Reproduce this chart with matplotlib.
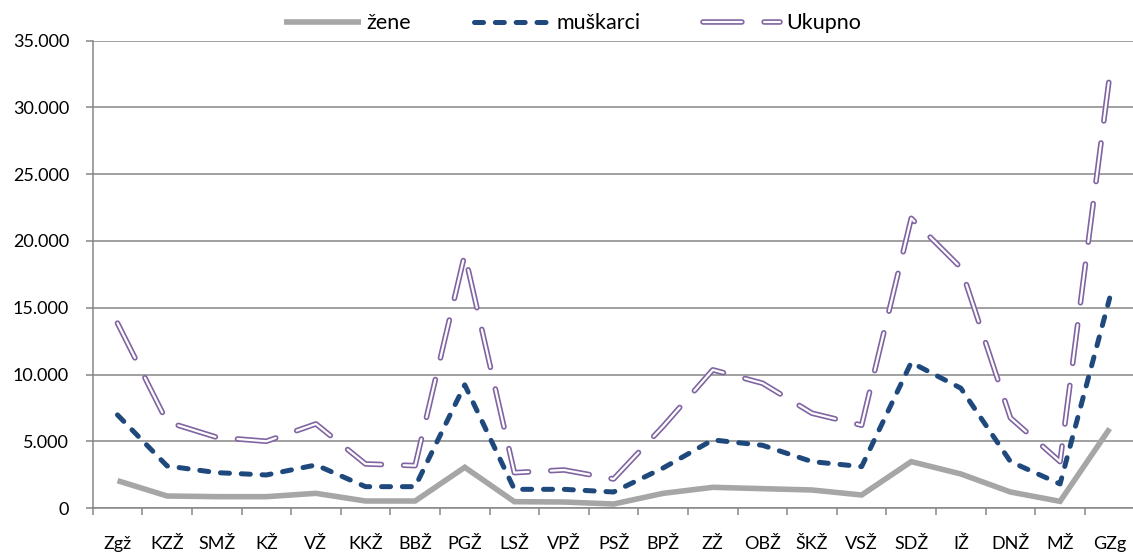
import matplotlib
matplotlib.use("Agg")
import matplotlib.pyplot as plt
import matplotlib.patheffects as pe
from matplotlib.ticker import FuncFormatter, MultipleLocator
import numpy as np

plt.rcParams["font.family"] = ["Lato", "DejaVu Sans"]
plt.rcParams["lines.scale_dashes"] = False

categories = ["Zgž", "KZŽ", "SMŽ", "KŽ", "VŽ", "KKŽ", "BBŽ", "PGŽ", "LSŽ", "VPŽ", "PSŽ",
              "BPŽ", "ZŽ", "OBŽ", "ŠKŽ", "VSŽ", "SDŽ", "IŽ", "DNŽ", "MŽ", "GZg"]
zene = [2050, 900, 850, 850, 1100, 525, 525, 3050, 475, 450, 300,
        1100, 1550, 1450, 1350, 975, 3475, 2550, 1200, 500, 5950]
muskarci = [6975, 3150, 2650, 2475, 3225, 1600, 1600, 9225, 1400, 1400, 1200,
            3000, 5100, 4700, 3475, 3100, 10900, 8975, 3475, 1800, 15725]
ukupno = [13850, 6450, 5300, 5000, 6300, 3300, 3175, 19000, 2650, 2850, 2175,
          6125, 10350, 9350, 7100, 6200, 21700, 18000, 6750, 3475, 32400]

GRID = "#868686"

fig = plt.figure(figsize=(11.33, 5.54), dpi=100)
ax = fig.add_axes([0.0818, 0.083, 0.9195, 0.8435])

x = np.arange(len(categories))
ax.plot(x, zene, color="#A6A6A6", lw=4.0, solid_joinstyle="miter",
        solid_capstyle="butt", label="žene", zorder=3)
ax.plot(x, muskarci, color="#1F497D", lw=3.6, dashes=(6.5, 8.5),
        dash_capstyle="round", dash_joinstyle="round", label="muškarci", zorder=4)
ax.plot(x, ukupno, color="white", lw=1.6, dashes=(28, 16),
        dash_capstyle="round", dash_joinstyle="round", label="Ukupno", zorder=5,
        path_effects=[pe.Stroke(linewidth=4.0, foreground="#8064A2"), pe.Normal()])

ax.set_xlim(-0.5, len(categories) - 0.5)
ax.set_ylim(0, 35000)
ax.yaxis.set_major_locator(MultipleLocator(5000))
ax.yaxis.set_major_formatter(FuncFormatter(lambda v, p: f"{int(v):,}".replace(",", ".")))
ax.grid(axis="y", color=GRID, lw=1.1)
ax.set_axisbelow(True)

ax.set_xticks(x)
ax.set_xticklabels(categories)
ax.set_xticks(np.arange(-0.5, len(categories), 1), minor=True)
ax.tick_params(axis="x", which="major", length=0, pad=20, labelsize=13)
ax.tick_params(axis="x", which="minor", length=5, width=1.1, color=GRID)
ax.tick_params(axis="y", length=5, width=1.1, color=GRID, pad=12, labelsize=13)

for side in ["top", "right"]:
    ax.spines[side].set_visible(False)
for side in ["left", "bottom"]:
    ax.spines[side].set_color(GRID)
    ax.spines[side].set_linewidth(1.1)

fig.legend(loc="center", bbox_to_anchor=(0.505, 0.958), ncol=3, frameon=False,
           fontsize=15.5, handlelength=3.6, handletextpad=0.25, columnspacing=2.9)

fig.savefig("out.png", dpi=100)
